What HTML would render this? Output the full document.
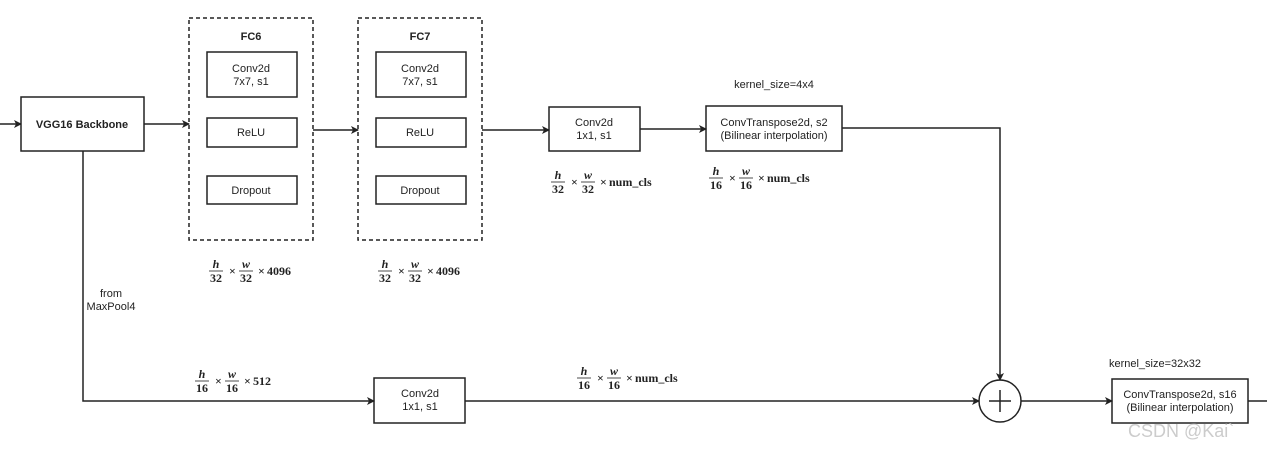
<!DOCTYPE html>
<html><head><meta charset="utf-8"><style>
html,body{margin:0;padding:0;background:#fff;}
svg{display:block;}
text{font-family:"Liberation Sans",sans-serif;font-size:11px;fill:#222;}
.m{font-family:"Liberation Serif",serif;font-size:12px;font-weight:bold;fill:#222;}
.mi{font-family:"Liberation Serif",serif;font-size:12px;font-style:italic;font-weight:bold;fill:#222;}
</style></head><body>
<svg width="1267" height="451" viewBox="0 0 1267 451" xmlns="http://www.w3.org/2000/svg">
<defs>
<marker id="a" markerWidth="8" markerHeight="8" refX="7" refY="4" orient="auto" markerUnits="userSpaceOnUse">
<path d="M0,0 L8,4 L0,8 L2,4 z" fill="#222"/></marker>
<g id="f32"><text class="mi" x="7" y="-3" text-anchor="middle">h</text><line x1="0" y1="0" x2="14" y2="0" stroke="#222" stroke-width="0.8"/><text class="m" x="7" y="11" text-anchor="middle">32</text>
<text class="m" x="20" y="4">×</text>
<text class="mi" x="37" y="-3" text-anchor="middle">w</text><line x1="30" y1="0" x2="44" y2="0" stroke="#222" stroke-width="0.8"/><text class="m" x="37" y="11" text-anchor="middle">32</text>
<text class="m" x="49" y="4">×</text></g>
<g id="f16"><text class="mi" x="7" y="-3" text-anchor="middle">h</text><line x1="0" y1="0" x2="14" y2="0" stroke="#222" stroke-width="0.8"/><text class="m" x="7" y="11" text-anchor="middle">16</text>
<text class="m" x="20" y="4">×</text>
<text class="mi" x="37" y="-3" text-anchor="middle">w</text><line x1="30" y1="0" x2="44" y2="0" stroke="#222" stroke-width="0.8"/><text class="m" x="37" y="11" text-anchor="middle">16</text>
<text class="m" x="49" y="4">×</text></g>
</defs>
<g stroke="#222" stroke-width="1.5" fill="none">
<line x1="0" y1="124" x2="21" y2="124" marker-end="url(#a)"/>
<rect x="21" y="97" width="123" height="54" fill="#fff"/>
<line x1="144" y1="124" x2="189" y2="124" marker-end="url(#a)"/>
<rect x="189" y="18" width="124" height="222" stroke-dasharray="4,3"/>
<rect x="207" y="52" width="90" height="45"/>
<rect x="207" y="118" width="90" height="29"/>
<rect x="207" y="176" width="90" height="28"/>
<line x1="313" y1="130" x2="358" y2="130" marker-end="url(#a)"/>
<rect x="358" y="18" width="124" height="222" stroke-dasharray="4,3"/>
<rect x="376" y="52" width="90" height="45"/>
<rect x="376" y="118" width="90" height="29"/>
<rect x="376" y="176" width="90" height="28"/>
<line x1="482" y1="130" x2="549" y2="130" marker-end="url(#a)"/>
<rect x="549" y="107" width="91" height="44"/>
<line x1="640" y1="129" x2="706" y2="129" marker-end="url(#a)"/>
<rect x="706" y="106" width="136" height="45"/>
<polyline points="842,128 1000,128 1000,380" marker-end="url(#a)"/>
<polyline points="83,151 83,401 374,401" marker-end="url(#a)"/>
<rect x="374" y="378" width="91" height="45"/>
<line x1="465" y1="401" x2="979" y2="401" marker-end="url(#a)"/>
<circle cx="1000" cy="401" r="21"/>
<line x1="1000" y1="390" x2="1000" y2="412"/>
<line x1="989" y1="401" x2="1011" y2="401"/>
<line x1="1021" y1="401" x2="1112" y2="401" marker-end="url(#a)"/>
<rect x="1112" y="379" width="136" height="44"/>
<line x1="1248" y1="401" x2="1267" y2="401"/>
</g>
<text x="82" y="128" text-anchor="middle" font-weight="bold">VGG16 Backbone</text>
<text x="251" y="40" text-anchor="middle" font-weight="bold">FC6</text>
<text x="251" y="72" text-anchor="middle">Conv2d</text><text x="251" y="85" text-anchor="middle">7x7, s1</text>
<text x="251" y="136" text-anchor="middle">ReLU</text>
<text x="251" y="194" text-anchor="middle">Dropout</text>
<text x="420" y="40" text-anchor="middle" font-weight="bold">FC7</text>
<text x="420" y="72" text-anchor="middle">Conv2d</text><text x="420" y="85" text-anchor="middle">7x7, s1</text>
<text x="420" y="136" text-anchor="middle">ReLU</text>
<text x="420" y="194" text-anchor="middle">Dropout</text>
<text x="594" y="126" text-anchor="middle">Conv2d</text><text x="594" y="139" text-anchor="middle">1x1, s1</text>
<text x="774" y="88" text-anchor="middle">kernel_size=4x4</text>
<text x="774" y="126" text-anchor="middle">ConvTranspose2d, s2</text><text x="774" y="139" text-anchor="middle">(Bilinear interpolation)</text>
<text x="420" y="397" text-anchor="middle">Conv2d</text><text x="420" y="410" text-anchor="middle">1x1, s1</text>
<text x="1155" y="367" text-anchor="middle">kernel_size=32x32</text>
<text x="1180" y="398" text-anchor="middle">ConvTranspose2d, s16</text><text x="1180" y="411" text-anchor="middle">(Bilinear interpolation)</text>
<text x="111" y="297" text-anchor="middle">from</text><text x="111" y="310" text-anchor="middle">MaxPool4</text>
<g transform="translate(209,271)"><use href="#f32"/><text class="m" x="58" y="4">4096</text></g>
<g transform="translate(378,271)"><use href="#f32"/><text class="m" x="58" y="4">4096</text></g>
<g transform="translate(551,182)"><use href="#f32"/><text class="m" x="58" y="4">num_cls</text></g>
<g transform="translate(709,178)"><use href="#f16"/><text class="m" x="58" y="4">num_cls</text></g>
<g transform="translate(195,381)"><use href="#f16"/><text class="m" x="58" y="4">512</text></g>
<g transform="translate(577,378)"><use href="#f16"/><text class="m" x="58" y="4">num_cls</text></g>
<text x="1128" y="437" style="font-size:18px;fill:#ccc;">CSDN @Kai`</text>
</svg>
</body></html>
